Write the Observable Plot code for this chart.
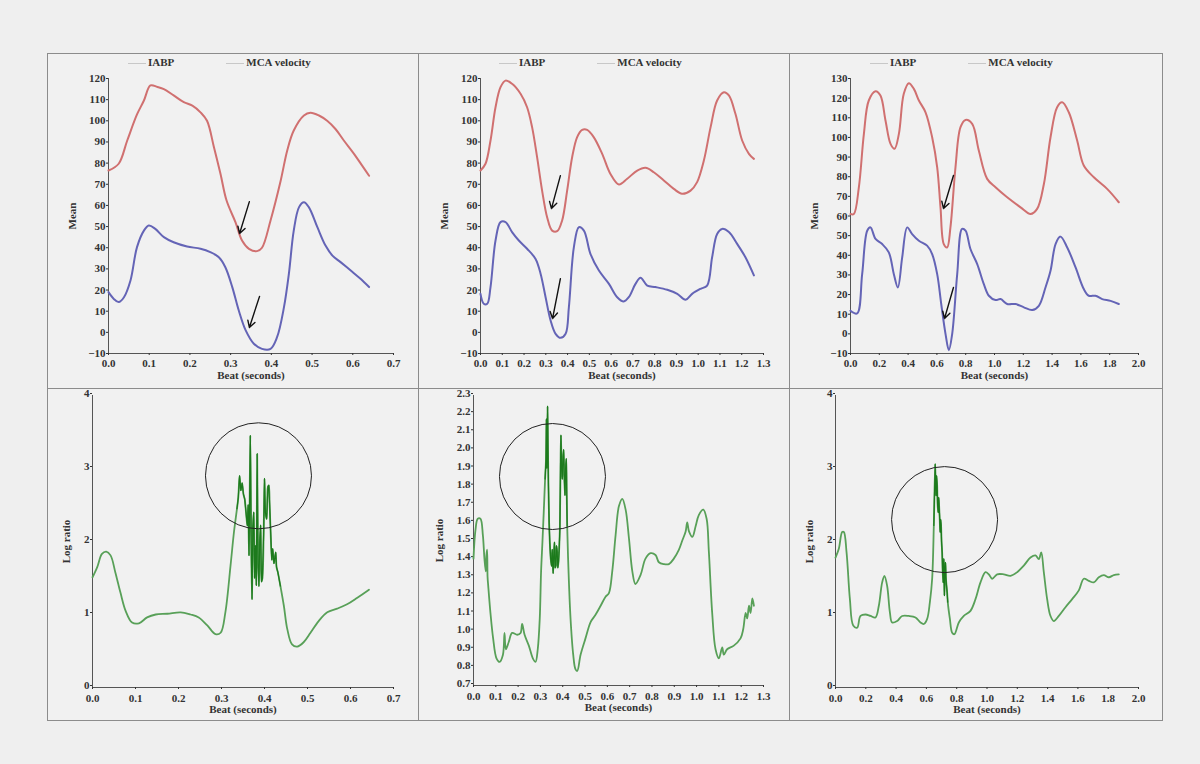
<!DOCTYPE html>
<html><head><meta charset="utf-8">
<script src="https://cdn.jsdelivr.net/npm/d3@7"></script>
<script src="https://cdn.jsdelivr.net/npm/@observablehq/plot@0.6"></script>
<style>
html,body{margin:0;padding:0;background:#efefef;}
#wrap{position:relative;width:1200px;height:764px;background:#efefef;overflow:hidden;font-family:"Liberation Serif",serif;}
.frame{position:absolute;border:1px solid #8c8c8c;box-sizing:border-box;background:#f1f1f1;}
.pl{position:absolute;}
.legend{position:absolute;font:bold 11px "Liberation Serif",serif;color:#333;white-space:nowrap;}
.legend .ln{display:inline-block;width:18px;height:0;border-top:1px solid #c8c8c8;vertical-align:middle;margin-right:2px;}
</style>
</head><body>
<div id="wrap"></div>
<script>
// ---------- data: [beat seconds, value] ----------
const iabpA = [[0,76.5],[0.025,79.7],[0.046,90.7],[0.07,103],[0.087,109.6],[0.103,116.7],[0.12,116],[0.136,115],[0.16,112],[0.185,108.8],[0.206,107.2],[0.226,104],[0.242,100],[0.259,87.5],[0.275,75],[0.29,62.3],[0.312,52],[0.328,43.4],[0.345,39.5],[0.365,38.4],[0.377,40],[0.398,52.9],[0.423,71.8],[0.439,86],[0.455,95.4],[0.48,102.5],[0.496,103.8],[0.517,102.5],[0.537,100],[0.558,96],[0.578,90.7],[0.603,84.4],[0.623,78.8],[0.64,74]];
const mcaA = [[0,19],[0.013,15.8],[0.025,14.3],[0.038,16.6],[0.054,24.5],[0.07,40.3],[0.087,48.1],[0.099,50.5],[0.115,48.9],[0.136,45],[0.16,42.6],[0.193,40.6],[0.226,39.5],[0.25,37.9],[0.271,35.5],[0.287,30.8],[0.304,21.4],[0.32,10.3],[0.337,0.9],[0.357,-5.4],[0.377,-7.8],[0.398,-7.8],[0.414,-2.3],[0.431,11.9],[0.443,27.6],[0.455,48.1],[0.468,59.2],[0.48,61.5],[0.492,59.2],[0.513,49.7],[0.533,41],[0.55,36.3],[0.57,33.2],[0.595,29.2],[0.619,25.3],[0.64,21.4]];
const iabpB = [[0,76.5],[0.023,79.7],[0.046,90.7],[0.069,106.4],[0.092,115.9],[0.115,119],[0.145,117.5],[0.184,112.8],[0.214,106.4],[0.237,97],[0.26,82.8],[0.283,67],[0.306,54.4],[0.329,48.1],[0.352,47.8],[0.375,52.9],[0.398,67],[0.421,82.8],[0.444,92.3],[0.467,95.7],[0.49,95.7],[0.52,92.3],[0.559,84.4],[0.597,74.9],[0.636,69.9],[0.674,72.6],[0.72,76.5],[0.758,77.8],[0.796,75.7],[0.842,71.8],[0.888,67.8],[0.926,65.5],[0.965,67],[0.995,71],[1.026,81.2],[1.057,97],[1.087,109.6],[1.118,113.5],[1.141,112],[1.171,103.3],[1.202,90.7],[1.233,84.4],[1.256,82]];
const mcaB = [[0,18.2],[0.015,13.5],[0.031,13.5],[0.046,21.4],[0.069,43.4],[0.092,52.1],[0.115,52.1],[0.145,47.4],[0.176,43.4],[0.214,39.5],[0.253,34.7],[0.276,27.7],[0.299,16.6],[0.322,5.6],[0.345,-0.7],[0.368,-2.6],[0.391,-0.7],[0.406,11.9],[0.429,40.3],[0.452,49.7],[0.475,48.1],[0.505,37.1],[0.544,29.2],[0.59,22.9],[0.628,16.6],[0.658,14.6],[0.681,16.6],[0.712,22.9],[0.735,25.8],[0.766,22.1],[0.804,21.4],[0.858,20.1],[0.904,18.2],[0.942,15.4],[0.972,18.2],[1.011,20.6],[1.041,22.1],[1.064,35.5],[1.087,46.5],[1.11,48.9],[1.141,47.4],[1.179,41.8],[1.217,35.5],[1.256,26.9]];
const iabpC = [[0,61],[0.023,61],[0.058,74.6],[0.093,101.8],[0.127,118.8],[0.174,123.5],[0.208,121.3],[0.243,108.6],[0.278,96.7],[0.306,94.2],[0.336,101.8],[0.37,122.2],[0.405,127.6],[0.44,124.7],[0.475,118.8],[0.521,112.8],[0.567,100.1],[0.602,84.8],[0.625,64.4],[0.648,45.7],[0.671,44],[0.694,54.2],[0.729,84.8],[0.764,105.2],[0.799,108.9],[0.845,106.9],[0.891,93.3],[0.949,78.9],[1.007,74.6],[1.088,69.5],[1.181,64.4],[1.25,61],[1.296,63.6],[1.343,76.3],[1.389,100.1],[1.435,115.4],[1.47,117.9],[1.516,112.8],[1.574,98.4],[1.62,85.7],[1.69,79.7],[1.782,73.8],[1.863,67]];
const mcaC = [[0,11.8],[0.046,10.4],[0.081,30.4],[0.116,52.5],[0.139,54.2],[0.174,48.3],[0.22,45.7],[0.266,41.5],[0.301,30.4],[0.329,23.6],[0.359,38.9],[0.394,54.2],[0.428,50.8],[0.475,47.4],[0.532,44.9],[0.567,40.6],[0.602,30.4],[0.63,15.2],[0.66,-0.1],[0.683,-8.3],[0.706,-0.1],[0.741,30.4],[0.775,53.4],[0.799,52.5],[0.833,43.2],[0.88,35.5],[0.926,25.3],[0.961,19.4],[1.007,17.2],[1.042,17.7],[1.088,15.2],[1.146,15.2],[1.204,13.5],[1.262,12.1],[1.308,14.3],[1.354,23.6],[1.389,32.1],[1.424,45.7],[1.458,49.5],[1.505,44],[1.563,33.8],[1.62,22.8],[1.655,19.4],[1.701,19.4],[1.748,17.7],[1.806,16.8],[1.863,15.2]];

const ratioA = [[0,1.51],[0.011,1.65],[0.022,1.83],[0.032,1.86],[0.042,1.81],[0.053,1.58],[0.065,1.3],[0.077,1.05],[0.092,0.89],[0.108,0.88],[0.127,0.96],[0.147,1.0],[0.174,1.01],[0.205,1.03],[0.228,1.0],[0.247,0.96],[0.267,0.85],[0.286,0.73],[0.298,0.75],[0.309,1.03],[0.321,1.67],[0.329,2.13],[0.336,2.45],[0.339,2.6],[0.342,2.9],[0.345,2.7],[0.348,2.8],[0.351,2.65],[0.354,2.58],[0.357,2.4],[0.36,2.22],[0.362,2.5],[0.364,1.81],[0.367,3.45],[0.369,2.0],[0.371,1.21],[0.373,2.2],[0.375,2.4],[0.377,1.5],[0.379,1.94],[0.381,1.4],[0.383,3.2],[0.385,1.7],[0.387,1.39],[0.389,2.0],[0.391,2.22],[0.393,1.45],[0.395,1.49],[0.398,2.1],[0.4,2.86],[0.402,2.4],[0.405,2.31],[0.408,2.75],[0.41,2.77],[0.412,2.5],[0.414,2.17],[0.417,1.75],[0.419,1.9],[0.422,1.7],[0.426,1.85],[0.428,1.65],[0.431,1.58],[0.437,1.39],[0.445,1.12],[0.453,0.8],[0.464,0.59],[0.476,0.56],[0.491,0.62],[0.507,0.75],[0.526,0.91],[0.546,1.03],[0.569,1.08],[0.592,1.14],[0.616,1.23],[0.643,1.34]];
const ratioB = [[0,1.4],[0.009,1.56],[0.019,1.62],[0.031,1.62],[0.042,1.53],[0.049,1.4],[0.055,1.33],[0.058,1.42],[0.061,1.45],[0.063,1.3],[0.066,1.25],[0.076,1.1],[0.088,0.96],[0.103,0.85],[0.117,0.83],[0.132,0.87],[0.139,0.99],[0.145,0.9],[0.158,0.94],[0.173,0.99],[0.196,0.98],[0.211,0.99],[0.218,1.04],[0.229,0.98],[0.248,0.92],[0.266,0.85],[0.278,0.83],[0.288,0.9],[0.297,1.07],[0.303,1.33],[0.309,1.49],[0.315,1.66],[0.321,1.84],[0.325,1.95],[0.327,2.17],[0.329,1.9],[0.332,2.24],[0.334,2.0],[0.336,1.8],[0.339,1.6],[0.342,1.49],[0.346,1.4],[0.35,1.36],[0.353,1.45],[0.357,1.32],[0.36,1.42],[0.363,1.49],[0.366,1.35],[0.369,1.36],[0.372,1.47],[0.375,1.44],[0.378,1.35],[0.381,1.38],[0.384,1.45],[0.387,1.56],[0.39,1.9],[0.392,2.08],[0.395,1.9],[0.398,1.84],[0.401,1.95],[0.404,2.0],[0.407,1.85],[0.41,1.75],[0.413,1.9],[0.416,1.95],[0.418,1.75],[0.42,1.58],[0.426,1.33],[0.435,1.07],[0.447,0.87],[0.457,0.79],[0.465,0.78],[0.48,0.87],[0.502,0.96],[0.525,1.05],[0.547,1.09],[0.57,1.14],[0.592,1.19],[0.607,1.21],[0.622,1.33],[0.637,1.53],[0.652,1.69],[0.667,1.73],[0.682,1.67],[0.697,1.51],[0.712,1.33],[0.726,1.26],[0.749,1.31],[0.771,1.4],[0.794,1.43],[0.816,1.42],[0.831,1.38],[0.853,1.37],[0.876,1.37],[0.898,1.4],[0.921,1.45],[0.936,1.5],[0.951,1.55],[0.958,1.6],[0.966,1.55],[0.981,1.52],[0.996,1.58],[1.01,1.64],[1.03,1.67],[1.045,1.62],[1.055,1.44],[1.07,1.1],[1.085,0.9],[1.1,0.85],[1.115,0.91],[1.122,0.87],[1.137,0.9],[1.167,0.92],[1.197,0.96],[1.209,1.01],[1.22,1.1],[1.227,1.07],[1.235,1.14],[1.242,1.1],[1.25,1.18],[1.257,1.14]];
const ratioC = [[0,1.78],[0.022,1.9],[0.044,2.13],[0.055,2.13],[0.073,1.85],[0.095,1.21],[0.117,0.85],[0.143,0.82],[0.165,0.98],[0.198,1.0],[0.231,0.98],[0.264,0.96],[0.286,1.12],[0.308,1.44],[0.323,1.53],[0.341,1.39],[0.359,1.03],[0.374,0.89],[0.407,0.91],[0.44,0.98],[0.484,0.98],[0.528,0.96],[0.561,0.89],[0.583,0.87],[0.605,0.94],[0.623,1.17],[0.638,1.49],[0.649,2.22],[0.658,3.06],[0.661,2.8],[0.664,2.63],[0.667,2.9],[0.671,2.77],[0.674,2.5],[0.678,2.4],[0.681,2.6],[0.684,2.49],[0.688,2.3],[0.691,2.13],[0.694,2.3],[0.697,2.22],[0.7,2.0],[0.704,1.85],[0.707,1.6],[0.711,1.44],[0.713,1.7],[0.715,1.76],[0.717,1.5],[0.719,1.26],[0.722,1.6],[0.726,1.71],[0.729,1.5],[0.733,1.39],[0.737,1.3],[0.741,1.17],[0.755,0.94],[0.77,0.75],[0.785,0.73],[0.814,0.89],[0.847,0.98],[0.891,1.05],[0.924,1.21],[0.957,1.44],[0.99,1.58],[1.012,1.55],[1.034,1.49],[1.067,1.55],[1.111,1.55],[1.155,1.53],[1.199,1.58],[1.243,1.67],[1.287,1.78],[1.32,1.81],[1.342,1.76],[1.358,1.85],[1.375,1.58],[1.397,1.21],[1.419,0.98],[1.441,0.91],[1.474,0.98],[1.518,1.1],[1.562,1.21],[1.606,1.33],[1.639,1.49],[1.672,1.46],[1.705,1.44],[1.738,1.51],[1.771,1.54],[1.804,1.51],[1.837,1.54],[1.87,1.55]];

// arrows (annotations) and circles
const arrowsA = [{x1:0.346,y1:61.8,x2:0.322,y2:46.7},{x1:0.371,y1:17,x2:0.346,y2:2.3}];
const arrowsB = [{x1:0.367,y1:74.1,x2:0.326,y2:58.5},{x1:0.367,y1:25.4,x2:0.331,y2:6.5}];
const arrowsC = [{x1:0.715,y1:80.6,x2:0.646,y2:63.8},{x1:0.715,y1:23.6,x2:0.653,y2:7.8}];
const circleA = [{x:0.386,y:2.9}];
const circleB = [{x:0.354,y:1.853}];
const circleC = [{x:0.72,y:2.3}];
const noisyA = [0.33,0.44];
const noisyB = [0.32,0.425];
const noisyC = [0.64,0.745];

// ticks
const ticks07 = [0,0.1,0.2,0.3,0.4,0.5,0.6,0.7];
const ticks13 = [0,0.1,0.2,0.3,0.4,0.5,0.6,0.7,0.8,0.9,1.0,1.1,1.2,1.3];
const ticks20 = [0,0.2,0.4,0.6,0.8,1.0,1.2,1.4,1.6,1.8,2.0];
const meanTicks120 = [-10,0,10,20,30,40,50,60,70,80,90,100,110,120];
const meanTicks130 = [-10,0,10,20,30,40,50,60,70,80,90,100,110,120,130];
const logTicks4 = [0,1,2,3,4];
const logTicks23 = [0.7,0.8,0.9,1.0,1.1,1.2,1.3,1.4,1.5,1.6,1.7,1.8,1.9,2.0,2.1,2.2,2.3];

const legendItems = ["IABP", "MCA velocity"];

const style = {fontFamily:'"Liberation Serif", serif', fontSize:"11px", fontWeight:"bold", color:"#333", background:"transparent", overflow:"visible"};
const f1 = d3.format(".1f");

function topPlot(cfg) {
  const [x0,x1] = cfg.xDomain, [y0,y1] = cfg.yDomain;
  return Plot.plot({
    width: cfg.w, height: 335,
    marginLeft: cfg.ml, marginRight: cfg.w - cfg.ml - cfg.plotW, marginTop: 25, marginBottom: 35,
    style,
    x: {domain: cfg.xDomain},
    y: {domain: cfg.yDomain},
    marks: [
      Plot.ruleX([x0], {stroke:"#555"}),
      Plot.ruleY([y0], {stroke:"#555"}),
      Plot.axisX(cfg.xTicks, {tickFormat: f1, tickSize: 2, tickPadding: 4, label: "Beat (seconds)", labelAnchor: "center", labelOffset: 25, labelArrow: "none"}),
      Plot.axisY(cfg.yTicks, {tickSize: 2, tickPadding: 1, label: "Mean", labelAnchor: "center", labelOffset: 40, labelArrow: "none"}),
      Plot.line(cfg.iabp, {x: d => d[0], y: d => d[1], stroke: "#d07070", strokeWidth: 2, curve: "catmull-rom"}),
      Plot.line(cfg.mca, {x: d => d[0], y: d => d[1], stroke: "#6464b6", strokeWidth: 2, curve: "catmull-rom"}),
      Plot.arrow(cfg.arrows, {x1:"x1", y1:"y1", x2:"x2", y2:"y2", stroke:"#111", strokeWidth:1.4, headLength:8})
    ]
  });
}

function bottomPlot(cfg) {
  const [x0,x1] = cfg.xDomain, [y0,y1] = cfg.yDomain;
  const noisy = cfg.ratio.filter(d => d[0] >= cfg.noisy[0] && d[0] <= cfg.noisy[1]);
  return Plot.plot({
    width: cfg.w, height: 331,
    marginLeft: cfg.ml, marginRight: cfg.w - cfg.ml - cfg.plotW, marginTop: 7, marginBottom: cfg.mb,
    style,
    x: {domain: cfg.xDomain},
    y: {domain: cfg.yDomain},
    marks: [
      Plot.ruleX([x0], {stroke:"#555"}),
      Plot.ruleY([y0], {stroke:"#555"}),
      Plot.axisX(cfg.xTicks, {tickFormat: f1, tickSize: 2, tickPadding: 5, label: "Beat (seconds)", labelAnchor: "center", labelOffset: 25, labelArrow: "none"}),
      Plot.axisY(cfg.yTicks, {tickFormat: cfg.yFormat, tickSize: 2, tickPadding: 1, dy: -2, label: "Log ratio", labelAnchor: "center", labelOffset: cfg.lo, labelArrow: "none"}),
      Plot.line(cfg.ratio, {x: d => d[0], y: d => d[1], stroke: "#58a058", strokeWidth: 1.8, curve: "catmull-rom"}),
      Plot.line(noisy, {x: d => d[0], y: d => d[1], stroke: "#1c7a1c", strokeWidth: 1.2}),
      Plot.dot(cfg.circle, {x:"x", y:"y", r: 53, fill:"none", stroke:"#222", strokeWidth:1})
    ]
  });
}

const wrap = document.getElementById("wrap");
function add(el, left, top) {
  el.style.position = "absolute"; el.style.left = left + "px"; el.style.top = top + "px";
  wrap.appendChild(el);
}
// frames
const cols = [[47,418],[418,789],[789,1162]];
const rows = [[53,388],[388,720]];
for (const [l,r] of cols) for (const [t,b] of rows) {
  const d = document.createElement("div"); d.className = "frame";
  d.style.left = l + "px"; d.style.top = t + "px"; d.style.width = (r - l + 1) + "px"; d.style.height = (b - t + 1) + "px";
  wrap.appendChild(d);
}

add(topPlot({w:371, ml:61, plotW:285, xDomain:[0,0.7], xTicks:ticks07, yDomain:[-10,120], yTicks:meanTicks120, iabp:iabpA, mca:mcaA, arrows:arrowsA}), 47, 53);
add(topPlot({w:371, ml:62, plotW:283, xDomain:[0,1.3], xTicks:ticks13, yDomain:[-10,120], yTicks:meanTicks120, iabp:iabpB, mca:mcaB, arrows:arrowsB}), 418, 53);
add(topPlot({w:373, ml:61, plotW:288, xDomain:[0,2.0], xTicks:ticks20, yDomain:[-10,130], yTicks:meanTicks130, iabp:iabpC, mca:mcaC, arrows:arrowsC}), 789, 53);

add(bottomPlot({w:371, ml:45, plotW:301, mb:32, lo:30, xDomain:[0,0.7], xTicks:ticks07, yDomain:[0,4], yTicks:logTicks4, yFormat:d3.format("d"), ratio:ratioA, noisy:noisyA, circle:circleA}), 47, 388);
add(bottomPlot({w:371, ml:55, plotW:290, mb:34, lo:38, xDomain:[0,1.3], xTicks:ticks13, yDomain:[0.7,2.3], yTicks:logTicks23, yFormat:f1, ratio:ratioB, noisy:noisyB, circle:circleB}), 418, 388);
add(bottomPlot({w:373, ml:46, plotW:303, mb:32, lo:30, xDomain:[0,2.0], xTicks:ticks20, yDomain:[0,4], yTicks:logTicks4, yFormat:d3.format("d"), ratio:ratioC, noisy:noisyC, circle:circleC}), 789, 388);

// legends
const legendPos = [[128,56],[499,56],[870,56]];
for (const [lx,ly] of legendPos) {
  const lg = document.createElement("div"); lg.className = "legend";
  lg.style.left = lx + "px"; lg.style.top = ly + "px";
  lg.innerHTML = `<span class="ln"></span>${legendItems[0]}<span style="display:inline-block;width:52px"></span><span class="ln"></span>${legendItems[1]}`;
  wrap.appendChild(lg);
}
</script>
</body></html>
